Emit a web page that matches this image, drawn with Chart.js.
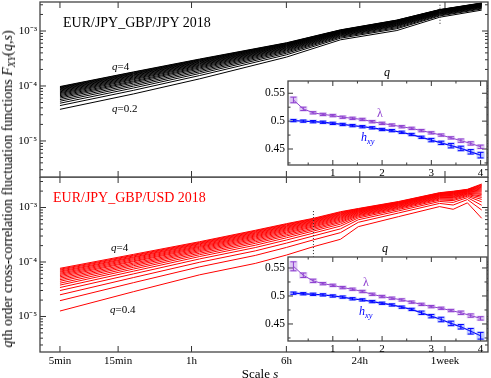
<!DOCTYPE html>
<html>
<head>
<meta charset="utf-8">
<script src="https://cdn.jsdelivr.net/npm/chart.js@4.4.0/dist/chart.umd.min.js"></script>
<style>
body { margin: 0; background: #fff; font-family: "Liberation Serif", "Times New Roman", serif; }
#wrap { position: relative; width: 491px; height: 378px; overflow: hidden; }
canvas { position: absolute; }
.t { position: absolute; white-space: nowrap; line-height: 1; transform: translateY(-50%); }
.c { transform: translate(-50%, -50%); }
sub { font-size: 70%; vertical-align: -0.3em; line-height: 0; }
</style>
</head>
<body>
<div id="wrap">
<canvas id="top" width="491" height="180" style="left:0;top:0"></canvas>
<canvas id="bot" width="491" height="201" style="left:0;top:177px"></canvas>
<canvas id="inTop" width="236" height="114" style="left:255px;top:64px"></canvas>
<canvas id="inBot" width="236" height="114" style="left:255px;top:240px"></canvas>

<div class="t" style="left:63px;top:23px;font-size:14px">EUR/JPY_GBP/JPY 2018</div>
<div class="t" style="left:53px;top:198px;font-size:14px;color:#f00">EUR/JPY_GBP/USD 2018</div>
<div class="t" style="left:112px;top:66px;font-size:11px"><i>q</i>=4</div>
<div class="t" style="left:112px;top:108px;font-size:11px"><i>q</i>=0.2</div>
<div class="t" style="left:111px;top:247px;font-size:11px"><i>q</i>=4</div>
<div class="t" style="left:110px;top:309px;font-size:11px"><i>q</i>=0.4</div>
<div class="t c" style="left:387px;top:72px;font-size:12px"><i>q</i></div>
<div class="t c" style="left:385px;top:248px;font-size:12px"><i>q</i></div>
<div class="t c" style="left:380px;top:113px;font-size:12px;color:#8e3fcf">λ</div>
<div class="t" style="left:361px;top:137px;font-size:12px;color:#0000ff"><i>h</i><sub><i>xy</i></sub></div>
<div class="t c" style="left:366px;top:282px;font-size:12px;color:#8e3fcf">λ</div>
<div class="t" style="left:359px;top:311px;font-size:12px;color:#0000ff"><i>h</i><sub><i>xy</i></sub></div>
<div class="t c" style="left:260px;top:373px;font-size:13px">Scale <i>s</i></div>
<div class="t" style="left:8px;top:189px;font-size:14px;transform:translate(-50%,-50%) rotate(-90deg)"><i>q</i>th order cross-correlation fluctuation functions <i>F</i><sub><i>XY</i></sub>(<i>q,s</i>)</div>
</div>

<script>
// scales s in minutes
const sJpy = [5, 20, 70, 360, 1000, 2900, 6500, 14400];
const qJpy = [0.2, 0.4, 0.6, 0.8, 1.0, 1.2, 1.4, 1.6, 1.8, 2.0, 2.2, 2.4, 2.6, 2.8, 3.0, 3.2, 3.4, 3.6, 3.8, 4.0];
// F_XY(q,s) in units of 1e-5, one row per q
const fJpy = [
    [3.76, 7.16, 13.5, 33.5, 69.2, 102, 178, 240],
    [4.40, 8.32, 15.5, 36.9, 74.0, 110, 188, 252],
    [4.86, 9.18, 16.9, 39.4, 77.4, 115, 194, 260],
    [5.28, 9.93, 18.1, 41.5, 80.2, 120, 200, 267],
    [5.66, 10.6, 19.2, 43.4, 82.6, 124, 204, 273],
    [6.03, 11.3, 20.3, 45.0, 84.9, 127, 208, 278],
    [6.35, 11.9, 21.3, 46.6, 86.9, 130, 212, 282],
    [6.67, 12.4, 22.2, 48.0, 88.7, 133, 216, 287],
    [6.98, 13.0, 23.1, 49.3, 90.6, 136, 219, 291],
    [7.28, 13.5, 23.9, 50.7, 92.0, 138, 222, 295],
    [7.55, 14.0, 24.7, 51.9, 93.5, 141, 225, 299],
    [7.83, 14.5, 25.5, 53.1, 95.1, 143, 228, 302],
    [8.09, 15.0, 26.2, 54.2, 96.6, 146, 230, 305],
    [8.36, 15.5, 27.0, 55.3, 97.9, 148, 233, 308],
    [8.61, 15.9, 27.7, 56.2, 99.1, 150, 235, 311],
    [8.85, 16.4, 28.4, 57.3, 100, 151, 238, 314],
    [9.12, 16.8, 29.1, 58.3, 102, 153, 240, 317],
    [9.33, 17.2, 29.7, 59.3, 103, 155, 242, 319],
    [9.57, 17.7, 30.3, 60.3, 104, 157, 244, 321],
    [9.77, 18.0, 30.9, 61.0, 105, 158, 245, 324]
];

const sUsd = [5, 20, 70, 200, 360, 600, 1000, 1400, 3000, 6500, 8400, 11000, 14400];
const qUsd = [0.4, 0.6, 0.8, 1.0, 1.2, 1.4, 1.6, 1.8, 2.0, 2.2, 2.4, 2.6, 2.8, 3.0, 3.2, 3.4, 3.6, 3.8, 4.0];
const fUsd = [
    [1.26, 2.85, 5.82, 9.42, 13.4, 19.1, 26.1, 44.5, 68.1, 104, 92.7, 122, 63.4],
    [1.95, 4.17, 8.15, 13.2, 18.5, 25.5, 34.6, 53.5, 79.4, 119, 111, 140, 89.9],
    [2.50, 5.18, 9.89, 16.0, 22.2, 30.1, 40.6, 59.6, 86.7, 129, 124, 152, 110],
    [2.99, 6.05, 11.4, 18.4, 25.3, 33.9, 45.6, 64.3, 92.3, 137, 134, 161, 127],
    [3.40, 6.78, 12.6, 20.3, 27.8, 37.0, 49.5, 67.9, 96.6, 143, 141, 167, 141],
    [3.77, 7.41, 13.6, 22.0, 30.0, 39.5, 53.0, 71.0, 100, 148, 148, 173, 153],
    [4.09, 7.98, 14.5, 23.5, 31.8, 41.8, 55.8, 73.5, 103, 152, 153, 177, 163],
    [4.43, 8.53, 15.4, 24.9, 33.7, 44.1, 58.7, 75.9, 106, 156, 158, 182, 174],
    [4.73, 9.04, 16.2, 26.3, 35.4, 46.0, 61.4, 78.2, 109, 160, 162, 185, 183],
    [5.04, 9.55, 17.0, 27.6, 37.2, 48.0, 64.0, 80.4, 111, 163, 167, 189, 193],
    [5.35, 10.1, 17.8, 28.9, 38.8, 49.9, 66.4, 82.4, 114, 166, 171, 193, 202],
    [5.65, 10.5, 18.6, 30.1, 40.4, 51.8, 68.7, 84.3, 116, 169, 175, 196, 211],
    [5.94, 11.0, 19.3, 31.3, 41.9, 53.6, 71.1, 86.1, 118, 172, 179, 199, 220],
    [6.22, 11.5, 20.0, 32.5, 43.4, 55.2, 73.3, 87.9, 120, 175, 182, 202, 229],
    [6.52, 12.0, 20.8, 33.7, 44.9, 57.0, 75.5, 89.5, 122, 177, 186, 205, 237],
    [6.79, 12.4, 21.5, 34.8, 46.2, 58.6, 77.6, 91.2, 124, 180, 189, 208, 245],
    [7.10, 12.9, 22.2, 36.0, 47.8, 60.3, 79.8, 92.9, 125, 182, 193, 211, 254],
    [7.38, 13.3, 22.9, 37.1, 49.1, 61.8, 81.7, 94.4, 127, 185, 196, 213, 262],
    [7.66, 13.8, 23.6, 38.2, 50.5, 63.4, 83.8, 95.9, 129, 187, 199, 216, 270]
];

// inset: lambda and h_xy against q
const qIn = [0.2, 0.4, 0.6, 0.8, 1.0, 1.2, 1.4, 1.6, 1.8, 2.0, 2.2, 2.4, 2.6, 2.8, 3.0, 3.2, 3.4, 3.6, 3.8, 4.0];
const lamJpy = [0.538, 0.522, 0.515, 0.512, 0.510, 0.507, 0.505, 0.503, 0.499, 0.496, 0.493, 0.490, 0.487, 0.483, 0.479, 0.475, 0.470, 0.465, 0.460, 0.454];
const lamJpyErr = [0.005, 0.003, 0.002, 0.002, 0.002, 0.002, 0.002, 0.002, 0.002, 0.002, 0.002, 0.002, 0.002, 0.002, 0.002, 0.002, 0.002, 0.003, 0.003, 0.003];
const hJpy = [0.501, 0.500, 0.499, 0.498, 0.496, 0.494, 0.492, 0.490, 0.488, 0.485, 0.483, 0.480, 0.476, 0.471, 0.466, 0.461, 0.456, 0.451, 0.445, 0.439];
const hJpyErr = [0.002, 0.002, 0.002, 0.002, 0.002, 0.002, 0.002, 0.002, 0.002, 0.002, 0.002, 0.002, 0.002, 0.002, 0.003, 0.003, 0.004, 0.004, 0.004, 0.005];
const lamUsd = [0.553, 0.537, 0.527, 0.522, 0.519, 0.515, 0.512, 0.508, 0.503, 0.499, 0.496, 0.493, 0.489, 0.485, 0.481, 0.478, 0.474, 0.470, 0.465, 0.460];
const lamUsdErr = [0.008, 0.004, 0.003, 0.002, 0.002, 0.002, 0.002, 0.002, 0.002, 0.002, 0.002, 0.002, 0.002, 0.002, 0.002, 0.002, 0.002, 0.003, 0.003, 0.003];
const hUsd = [0.505, 0.504, 0.503, 0.502, 0.500, 0.498, 0.495, 0.493, 0.490, 0.487, 0.484, 0.480, 0.476, 0.470, 0.464, 0.458, 0.451, 0.445, 0.437, 0.429];
const hUsdErr = [0.002, 0.002, 0.002, 0.002, 0.002, 0.002, 0.002, 0.002, 0.002, 0.002, 0.002, 0.002, 0.002, 0.003, 0.003, 0.004, 0.004, 0.004, 0.005, 0.006];

// crossover scales (dotted markers): [s, F top, F bottom]
const crossJpy = [6550, 3.0e-3, 1.3e-3];
const crossUsd = [600, 8.6e-4, 1.25e-4];

const xTickVals = [5, 15, 60, 360, 1440, 7200];
const xTickText = ['5min', '15min', '1h', '6h', '24h', '1week'];
const yTickVals = [1e-5, 1e-4, 1e-3];
const yTickText = ['10⁻⁵', '10⁻⁴', '10⁻³'];
const qTickVals = [1, 2, 3, 4];
const hTickVals = [0.45, 0.5, 0.55];
const hTickText = ['0.45', '0.5', '0.55'];

const SERIF = '"Liberation Serif", "Times New Roman", serif';

function seg(ctx, x1, y1, x2, y2) {
    ctx.beginPath();
    ctx.moveTo(x1, y1);
    ctx.lineTo(x2, y2);
    ctx.stroke();
}

function logMinor(min, max) {
    let out = [];
    for (let e = -7; e <= -1; e++) {
        for (let k = 2; k <= 9; k++) {
            let v = k * Math.pow(10, e);
            if (v > min && v < max) out.push(v);
        }
    }
    return out;
}

// fixed axis sizes, no extra padding for edge labels
function fixX(h) {
    return sc => {
        if (sc.options.display) sc.height = h;
        sc.paddingLeft = 0; sc.paddingRight = 0; sc.paddingTop = 0; sc.paddingBottom = 0;
    };
}
function fixY(w) {
    return sc => {
        sc.width = w;
        sc.paddingLeft = 0; sc.paddingRight = 0; sc.paddingTop = 0; sc.paddingBottom = 0;
    };
}

const boxTicks = {
    id: 'boxTicks',
    beforeDraw(chart, args, o) {
        if (o.fill) {
            const a = chart.chartArea;
            chart.ctx.fillStyle = o.fill;
            chart.ctx.fillRect(a.left, a.top, a.width, a.height);
        }
    },
    afterDatasetsDraw(chart, args, o) {
        const { ctx, chartArea: a, scales: { x, y } } = chart;
        ctx.save();
        ctx.strokeStyle = '#333';
        ctx.lineWidth = 1;
        const L = o.len, l = o.len / 2;
        o.xMajor.forEach(v => {
            const p = x.getPixelForValue(v);
            seg(ctx, p, a.bottom, p, a.bottom - L);
            seg(ctx, p, a.top, p, a.top + L);
        });
        (o.xMinor || []).forEach(v => {
            const p = x.getPixelForValue(v);
            seg(ctx, p, a.bottom, p, a.bottom - l);
            seg(ctx, p, a.top, p, a.top + l);
        });
        o.yMajor.forEach(v => {
            const p = y.getPixelForValue(v);
            seg(ctx, a.left, p, a.left + L, p);
            seg(ctx, a.right, p, a.right - L, p);
        });
        (o.yMinor || []).forEach(v => {
            const p = y.getPixelForValue(v);
            seg(ctx, a.left, p, a.left + l, p);
            seg(ctx, a.right, p, a.right - l, p);
        });
        ctx.lineWidth = 1.3;
        ctx.strokeStyle = '#444';
        ctx.strokeRect(a.left, a.top, a.width, a.height);
        if (o.cross) {
            const px = x.getPixelForValue(o.cross[0]);
            ctx.lineWidth = 1;
            ctx.strokeStyle = '#222';
            ctx.setLineDash([1, 2]);
            seg(ctx, px, y.getPixelForValue(o.cross[1]), px, y.getPixelForValue(o.cross[2]));
            ctx.setLineDash([]);
        }
        ctx.restore();
    }
};

const errBars = {
    id: 'errBars',
    afterDatasetsDraw(chart) {
        const { ctx, scales: { y } } = chart;
        ctx.save();
        chart.data.datasets.forEach((ds, i) => {
            const meta = chart.getDatasetMeta(i);
            meta.data.forEach((pt, j) => {
                const v = ds.data[j].y, e = ds.errs[j];
                const y1 = y.getPixelForValue(v + e), y2 = y.getPixelForValue(v - e);
                ctx.fillStyle = ds.band;
                ctx.fillRect(pt.x - 4, y1 - 1, 8, y2 - y1 + 2);
                ctx.strokeStyle = ds.borderColor;
                ctx.lineWidth = 1;
                seg(ctx, pt.x, y1, pt.x, y2);
                seg(ctx, pt.x - 3, y1, pt.x + 3, y1);
                seg(ctx, pt.x - 3, y2, pt.x + 3, y2);
            });
        });
        ctx.restore();
    }
};

function mainChart(id, s, rows, color, yMin, yMax, showX, cross) {
    return new Chart(document.getElementById(id), {
        type: 'line',
        data: {
            datasets: rows.map(r => ({
                data: r.map((f, j) => ({ x: s[j], y: f * 1e-5 })),
                borderColor: color,
                borderWidth: 1,
                pointRadius: 0,
                fill: false
            }))
        },
        options: {
            responsive: false,
            animation: false,
            devicePixelRatio: 1,
            layout: { padding: { left: 0, right: 3, top: showX ? 0 : 2, bottom: showX ? 0 : 3 } },
            plugins: {
                legend: { display: false },
                tooltip: { enabled: false },
                boxTicks: { len: 6, xMajor: xTickVals, yMajor: yTickVals, yMinor: logMinor(yMin, yMax), cross: cross }
            },
            scales: {
                x: {
                    type: 'logarithmic',
                    min: 3.43,
                    max: 16220,
                    display: showX,
                    afterFit: fixX(26),
                    afterBuildTicks: sc => { sc.ticks = xTickVals.map(v => ({ value: v })); },
                    grid: { display: false, drawTicks: false },
                    border: { display: false },
                    ticks: {
                        autoSkip: false, maxRotation: 0, padding: 3, color: '#000',
                        font: { family: SERIF, size: 11 },
                        callback: (v, i) => xTickText[i]
                    }
                },
                y: {
                    type: 'logarithmic',
                    min: yMin,
                    max: yMax,
                    afterFit: fixY(40),
                    afterBuildTicks: sc => { sc.ticks = yTickVals.map(v => ({ value: v })); },
                    grid: { display: false, drawTicks: false },
                    border: { display: false },
                    ticks: {
                        padding: 3, color: '#000',
                        font: { family: SERIF, size: 11 },
                        callback: (v, i) => yTickText[i]
                    }
                }
            }
        },
        plugins: [boxTicks]
    });
}

function insetChart(id, lam, lamErr, h, hErr, yMin, yMax) {
    return new Chart(document.getElementById(id), {
        type: 'line',
        data: {
            datasets: [
                { data: qIn.map((q, j) => ({ x: q, y: lam[j] })), errs: lamErr, borderColor: '#8e3fcf', band: 'rgba(160,100,220,0.35)', borderWidth: 1, pointRadius: 0 },
                { data: qIn.map((q, j) => ({ x: q, y: h[j] })), errs: hErr, borderColor: '#0000ff', band: 'rgba(70,100,255,0.35)', borderWidth: 1.3, pointRadius: 0 }
            ]
        },
        options: {
            responsive: false,
            animation: false,
            devicePixelRatio: 1,
            layout: { padding: { left: 0, right: 4, top: 17, bottom: 0 } },
            plugins: {
                legend: { display: false },
                tooltip: { enabled: false },
                boxTicks: {
                    fill: '#fff', len: 5,
                    xMajor: qTickVals, xMinor: [0.5, 1.5, 2.5, 3.5],
                    yMajor: hTickVals, yMinor: [0.425, 0.475, 0.525]
                }
            },
            scales: {
                x: {
                    type: 'linear',
                    min: 0.09,
                    max: 4.13,
                    afterFit: fixX(13),
                    afterBuildTicks: sc => { sc.ticks = qTickVals.map(v => ({ value: v })); },
                    grid: { display: false, drawTicks: false },
                    border: { display: false },
                    ticks: { padding: 2, color: '#000', font: { family: SERIF, size: 11 }, callback: v => String(v) }
                },
                y: {
                    type: 'linear',
                    min: yMin,
                    max: yMax,
                    afterFit: fixY(33),
                    afterBuildTicks: sc => { sc.ticks = hTickVals.map(v => ({ value: v })); },
                    grid: { display: false, drawTicks: false },
                    border: { display: false },
                    ticks: { padding: 3, color: '#000', font: { family: SERIF, size: 11.5 }, callback: (v, i) => hTickText[i] }
                }
            }
        },
        plugins: [boxTicks, errBars]
    });
}

mainChart('top', sJpy, fJpy, '#000000', 2.21e-6, 3.37e-3, false, crossJpy);
mainChart('bot', sUsd, fUsd, '#ff0000', 2.23e-6, 3.63e-3, true, crossUsd);
insetChart('inTop', lamJpy, lamJpyErr, hJpy, hJpyErr, 0.4213, 0.572);
insetChart('inBot', lamUsd, lamUsdErr, hUsd, hUsdErr, 0.4196, 0.5696);
</script>
</body>
</html>
